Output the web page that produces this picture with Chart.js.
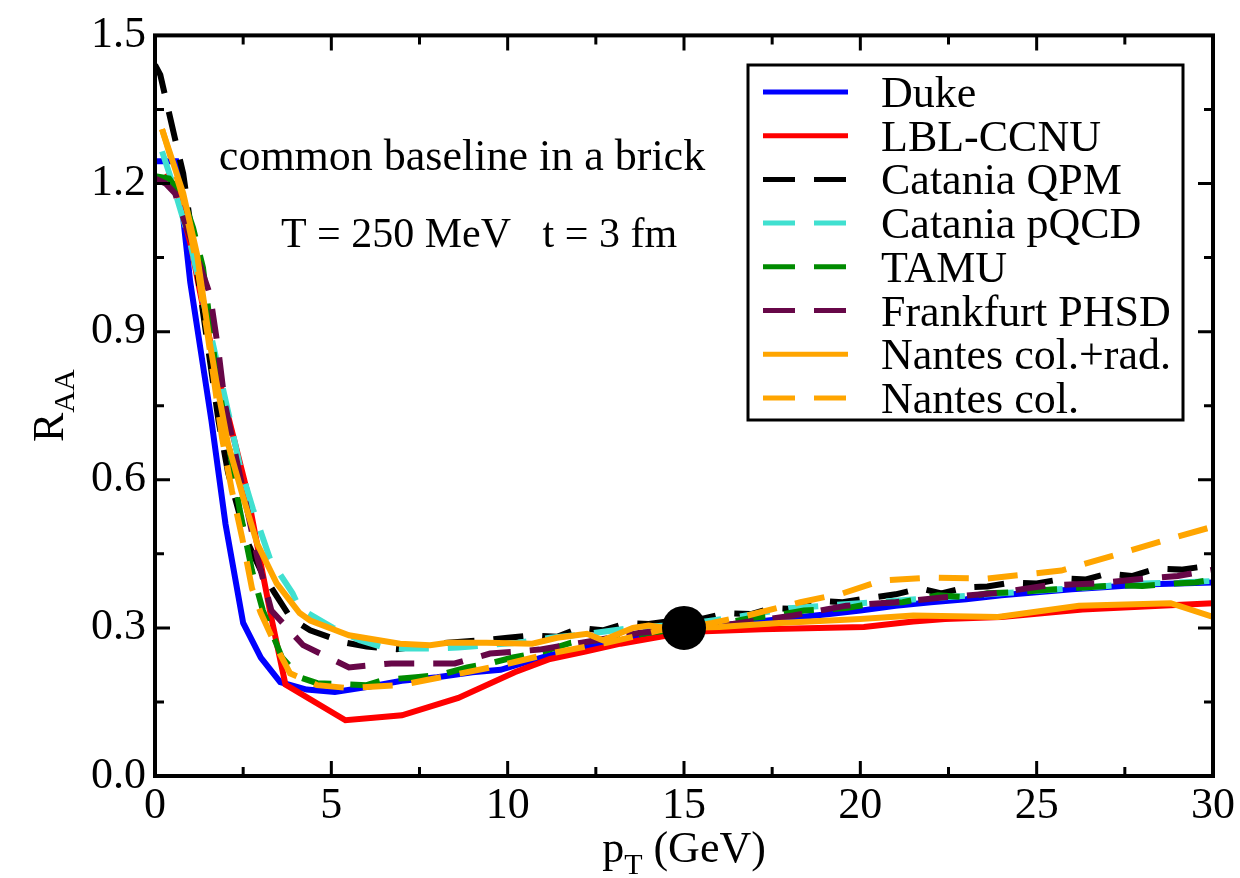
<!DOCTYPE html>
<html>
<head>
<meta charset="utf-8">
<script src="https://cdn.jsdelivr.net/npm/chart.js@4.4.1/dist/chart.umd.min.js"></script>
<style>
  html, body { margin: 0; padding: 0; background: #fff; }
  #wrap { width: 1240px; height: 878px; }
</style>
</head>
<body>
<div id="wrap"><canvas id="raa" width="1240" height="878"></canvas></div>
<script>
// values (pT in GeV, R_AA)
const dukeX = [0, 0.6, 0.8, 1.0, 1.3, 1.6, 2.0, 2.5, 3.0, 3.55, 4.3, 5.1, 6.0, 7.0, 8.0, 9.0, 9.8, 10.5, 11.2, 12.2, 13.2, 14.3, 15, 16, 17, 18, 19, 20, 21, 22, 23, 24, 25, 26, 27, 28, 29, 30];
const dukeY = [1.245, 1.245, 1.13, 1.0, 0.86, 0.72, 0.51, 0.31, 0.24, 0.19, 0.175, 0.17, 0.18, 0.193, 0.2, 0.21, 0.215, 0.23, 0.245, 0.26, 0.275, 0.29, 0.298, 0.305, 0.312, 0.32, 0.327, 0.335, 0.345, 0.352, 0.358, 0.366, 0.372, 0.378, 0.383, 0.388, 0.39, 0.392];

const lblX = [0.3, 0.6, 1.0, 1.5, 2.0, 2.6, 3.0, 3.3, 3.7, 5.4, 7.0, 8.6, 10.2, 11.2, 12.2, 13.2, 14.4, 15.6, 17.2, 18.8, 20.1, 21.5, 22.4, 24.0, 26.3, 28.5, 30];
const lblY = [1.22, 1.19, 1.08, 0.9, 0.75, 0.58, 0.43, 0.32, 0.185, 0.113, 0.123, 0.158, 0.21, 0.237, 0.252, 0.268, 0.283, 0.293, 0.297, 0.3, 0.302, 0.313, 0.318, 0.322, 0.337, 0.345, 0.35];

const qpmX = [0, 0.15, 0.57, 0.8, 1.0, 1.4, 1.8, 2.07, 2.6, 3.0, 3.4, 3.85, 4.4, 5.0, 5.4, 6.0, 6.85, 7.5, 8.3, 9.3, 10.0, 10.7, 11.4, 12.05, 12.7, 13.4, 14.0, 14.7, 15.5, 16.2, 16.9, 17.5, 18.2, 18.85, 19.5, 20.2, 21.0, 21.7, 22.3, 23.0, 23.6, 24.3, 25.0, 25.8, 26.4, 27.0, 27.7, 28.4, 29.1, 29.8, 30];
const qpmY = [1.44, 1.42, 1.29, 1.22, 1.12, 0.92, 0.72, 0.615, 0.477, 0.416, 0.37, 0.32, 0.295, 0.28, 0.27, 0.262, 0.257, 0.263, 0.27, 0.275, 0.28, 0.285, 0.282, 0.3, 0.295, 0.31, 0.308, 0.315, 0.318, 0.33, 0.328, 0.34, 0.338, 0.355, 0.352, 0.36, 0.368, 0.38, 0.37, 0.382, 0.384, 0.392, 0.39, 0.4, 0.398, 0.41, 0.405, 0.42, 0.418, 0.425, 0.415];

const pqcdX = [0.2, 0.5, 1.0, 1.5, 2.13, 2.4, 2.78, 3.26, 3.9, 4.1, 5.05, 5.8, 6.5, 7.0, 7.9, 8.6, 9.4, 10.3, 11.2, 12.4, 13.5, 14.5, 15.5, 16.3, 17.6, 18.0, 19, 20, 21, 22, 23, 24, 25, 26, 27, 28, 29, 30];
const pqcdY = [1.265, 1.2, 1.08, 0.92, 0.72, 0.63, 0.54, 0.44, 0.37, 0.34, 0.3, 0.275, 0.26, 0.258, 0.258, 0.26, 0.265, 0.27, 0.28, 0.289, 0.3, 0.305, 0.312, 0.32, 0.335, 0.34, 0.345, 0.35, 0.355, 0.36, 0.365, 0.37, 0.375, 0.38, 0.385, 0.39, 0.392, 0.395];

const tamuX = [0, 0.4, 0.8, 1.08, 1.36, 1.75, 2.0, 2.4, 2.75, 3.06, 3.6, 4.1, 4.6, 5.3, 6.0, 6.5, 7.4, 8.1, 8.85, 9.5, 10.15, 11.0, 11.8, 12.5, 13.2, 14.0, 15.0, 15.8, 16.9, 17.6, 18.4, 19.6, 20.4, 21.2, 22.2, 23.0, 23.6, 24.4, 25.1, 26.0, 27.2, 28.0, 28.9, 29.5, 30];
const tamuY = [1.215, 1.21, 1.17, 1.11, 1.03, 0.81, 0.71, 0.54, 0.416, 0.335, 0.24, 0.2, 0.188, 0.186, 0.184, 0.195, 0.2, 0.205, 0.22, 0.228, 0.24, 0.252, 0.27, 0.275, 0.28, 0.29, 0.298, 0.305, 0.32, 0.325, 0.335, 0.34, 0.35, 0.352, 0.366, 0.362, 0.37, 0.372, 0.376, 0.38, 0.386, 0.385, 0.39, 0.392, 0.398];

const phsdX = [0, 0.3, 0.57, 0.9, 1.2, 1.56, 1.8, 1.98, 2.3, 2.9, 3.3, 4.2, 5.5, 6.7, 8.5, 9.5, 10.9, 12.1, 13.75, 15.0, 16.1, 17.1, 18.1, 19.6, 21.0, 22.4, 23.8, 25.3, 26.7, 28.1, 29.0, 30];
const phsdY = [1.21, 1.2, 1.18, 1.11, 1.05, 0.975, 0.86, 0.755, 0.645, 0.443, 0.335, 0.265, 0.22, 0.228, 0.228, 0.248, 0.256, 0.27, 0.29, 0.298, 0.305, 0.315, 0.325, 0.345, 0.352, 0.362, 0.37, 0.386, 0.39, 0.4, 0.405, 0.418];

const radX = [0.2, 0.8, 1.19, 1.56, 1.75, 2.07, 2.5, 2.9, 3.45, 4.1, 4.4, 5.5, 6.95, 7.8, 8.3, 9.4, 10.7, 11.4, 12.25, 12.7, 13.55, 14.0, 14.5, 15.0, 16.0, 17.7, 20.0, 21.5, 23.9, 26.2, 28.8, 30];
const radY = [1.31, 1.18, 1.057, 0.875, 0.795, 0.673, 0.564, 0.47, 0.39, 0.33, 0.315, 0.285, 0.268, 0.265, 0.27, 0.27, 0.268, 0.28, 0.288, 0.275, 0.3, 0.305, 0.3, 0.3, 0.302, 0.31, 0.318, 0.325, 0.322, 0.345, 0.35, 0.322];

const colX = [0.2, 0.8, 1.2, 1.5, 1.9, 2.18, 2.47, 2.75, 3.0, 3.45, 3.83, 4.6, 5.5, 6.95, 8.4, 9.8, 11.2, 12.8, 13.75, 14.3, 15.0, 15.8, 16.8, 18.3, 19.5, 20.6, 22.0, 23.6, 25.7, 27.2, 28.6, 30];
const colY = [1.31, 1.17, 1.03, 0.89, 0.685, 0.578, 0.483, 0.38, 0.33, 0.26, 0.208, 0.184, 0.178, 0.184, 0.204, 0.224, 0.248, 0.27, 0.285, 0.295, 0.3, 0.31, 0.325, 0.352, 0.37, 0.396, 0.402, 0.4, 0.416, 0.447, 0.477, 0.505];

const refX = [15];
const refY = [0.3];

const labels = ['Duke', 'LBL-CCNU', 'Catania QPM', 'Catania pQCD', 'TAMU', 'Frankfurt PHSD', 'Nantes col.+rad.', 'Nantes col.'];
const colors = ['#0000ff', '#ff0000', '#000000', '#40e0d0', '#008b00', '#670748', '#ffa500', '#ffa500'];
const dashed = [false, false, true, true, true, true, false, true];
const xTicks = [0, 5, 10, 15, 20, 25, 30];
const yTicks = [0, 0.3, 0.6, 0.9, 1.2, 1.5];

const FONT = "'Liberation Serif', 'Times New Roman', serif";
const pts = (xs, ys) => xs.map((x, i) => ({ x: x, y: ys[i] }));
const series = [[dukeX, dukeY], [lblX, lblY], [qpmX, qpmY], [pqcdX, pqcdY], [tamuX, tamuY], [phsdX, phsdY], [radX, radY], [colX, colY]];

const datasets = series.map(function (s, i) {
    return {
        label: labels[i],
        data: pts(s[0], s[1]),
        borderColor: colors[i],
        borderWidth: 6,
        borderDash: dashed[i] ? [30, 19] : [],
        pointRadius: 0,
        tension: 0,
        fill: false,
        order: 10 - i
    };
});
datasets.push({
    label: 'ref',
    data: pts(refX, refY),
    showLine: false,
    pointRadius: 22,
    pointBackgroundColor: '#000',
    pointBorderWidth: 0,
    order: 0
});

// frame, inner ticks, texts and legend box
const decor = {
    id: 'decor',
    afterDraw(chart) {
        const c = chart.ctx;
        const a = chart.chartArea;
        const xs = chart.scales.x, ys = chart.scales.y;
        c.save();
        c.strokeStyle = '#000';
        c.lineWidth = 3;
        c.setLineDash([]);
        for (let v = 0; v <= 30; v += 2.5) {
            const px = xs.getPixelForValue(v);
            const len = (v % 5 === 0) ? 15 : 9;
            c.beginPath();
            c.moveTo(px, a.bottom); c.lineTo(px, a.bottom - len);
            c.moveTo(px, a.top); c.lineTo(px, a.top + len);
            c.stroke();
        }
        for (let k = 0; k <= 10; k++) {
            const py = ys.getPixelForValue(k * 0.15);
            const len = (k % 2 === 0) ? 15 : 9;
            c.beginPath();
            c.moveTo(a.left, py); c.lineTo(a.left + len, py);
            c.moveTo(a.right, py); c.lineTo(a.right - len, py);
            c.stroke();
        }
        c.lineWidth = 4;
        c.strokeRect(a.left, a.top, a.right - a.left, a.bottom - a.top);

        c.fillStyle = '#000';
        c.textBaseline = 'alphabetic';

        // x title p_T (GeV)
        const big = '44px ' + FONT, sub = '30px ' + FONT;
        c.font = big; const wp = c.measureText('p').width;
        const wg = c.measureText(' (GeV)').width;
        c.font = sub; const wt = c.measureText('T').width;
        let x0 = (a.left + a.right) / 2 - (wp + wt + wg) / 2;
        c.textAlign = 'left';
        c.font = big; c.fillText('p', x0, 862);
        c.font = sub; c.fillText('T', x0 + wp, 874);
        c.font = big; c.fillText(' (GeV)', x0 + wp + wt, 862);

        // y title R_AA
        c.save();
        c.font = big; const wr = c.measureText('R').width;
        c.font = sub; const wa = c.measureText('AA').width;
        c.translate(63, (a.top + a.bottom) / 2 + (wr + wa) / 2);
        c.rotate(-Math.PI / 2);
        c.font = big; c.fillText('R', 0, 0);
        c.font = sub; c.fillText('AA', wr, 11);
        c.restore();

        // annotation
        c.textAlign = 'center';
        c.font = '44px ' + FONT;
        c.fillText('common baseline in a brick', 462, 170);
        c.font = '42px ' + FONT;
        c.fillText('T = 250 MeV   t = 3 fm', 479, 247);

        // legend
        c.lineWidth = 3;
        c.strokeRect(748, 65, 435, 355);
        c.textAlign = 'left';
        c.font = '44px ' + FONT;
        for (let i = 0; i < labels.length; i++) {
            const y = 92 + i * 43.7;
            c.strokeStyle = colors[i];
            c.lineWidth = 5;
            c.setLineDash(dashed[i] ? [32, 19] : []);
            c.beginPath(); c.moveTo(763, y); c.lineTo(848, y); c.stroke();
            c.fillText(labels[i], 881, y + 15);
        }
        c.restore();
    }
};

new Chart(document.getElementById('raa').getContext('2d'), {
    type: 'line',
    data: { datasets: datasets },
    options: {
        responsive: false,
        animation: false,
        layout: { padding: { top: 33, right: 27, left: 0, bottom: 0 } },
        scales: {
            x: {
                type: 'linear', min: 0, max: 30,
                afterBuildTicks: s => { s.ticks = xTicks.map(v => ({ value: v })); },
                afterFit: s => { s.height = 102; },
                grid: { display: false, drawTicks: false },
                border: { display: false },
                ticks: { color: '#000', padding: 4, maxRotation: 0, font: { family: FONT, size: 44 } }
            },
            y: {
                type: 'linear', min: 0, max: 1.5,
                afterBuildTicks: s => { s.ticks = yTicks.map(v => ({ value: v })); },
                afterFit: s => { s.width = 155; },
                grid: { display: false, drawTicks: false },
                border: { display: false },
                ticks: { color: '#000', padding: 9, font: { family: FONT, size: 44 }, callback: v => Number(v).toFixed(1) }
            }
        },
        plugins: { legend: { display: false }, tooltip: { enabled: false } }
    },
    plugins: [decor]
});
</script>
</body>
</html>
